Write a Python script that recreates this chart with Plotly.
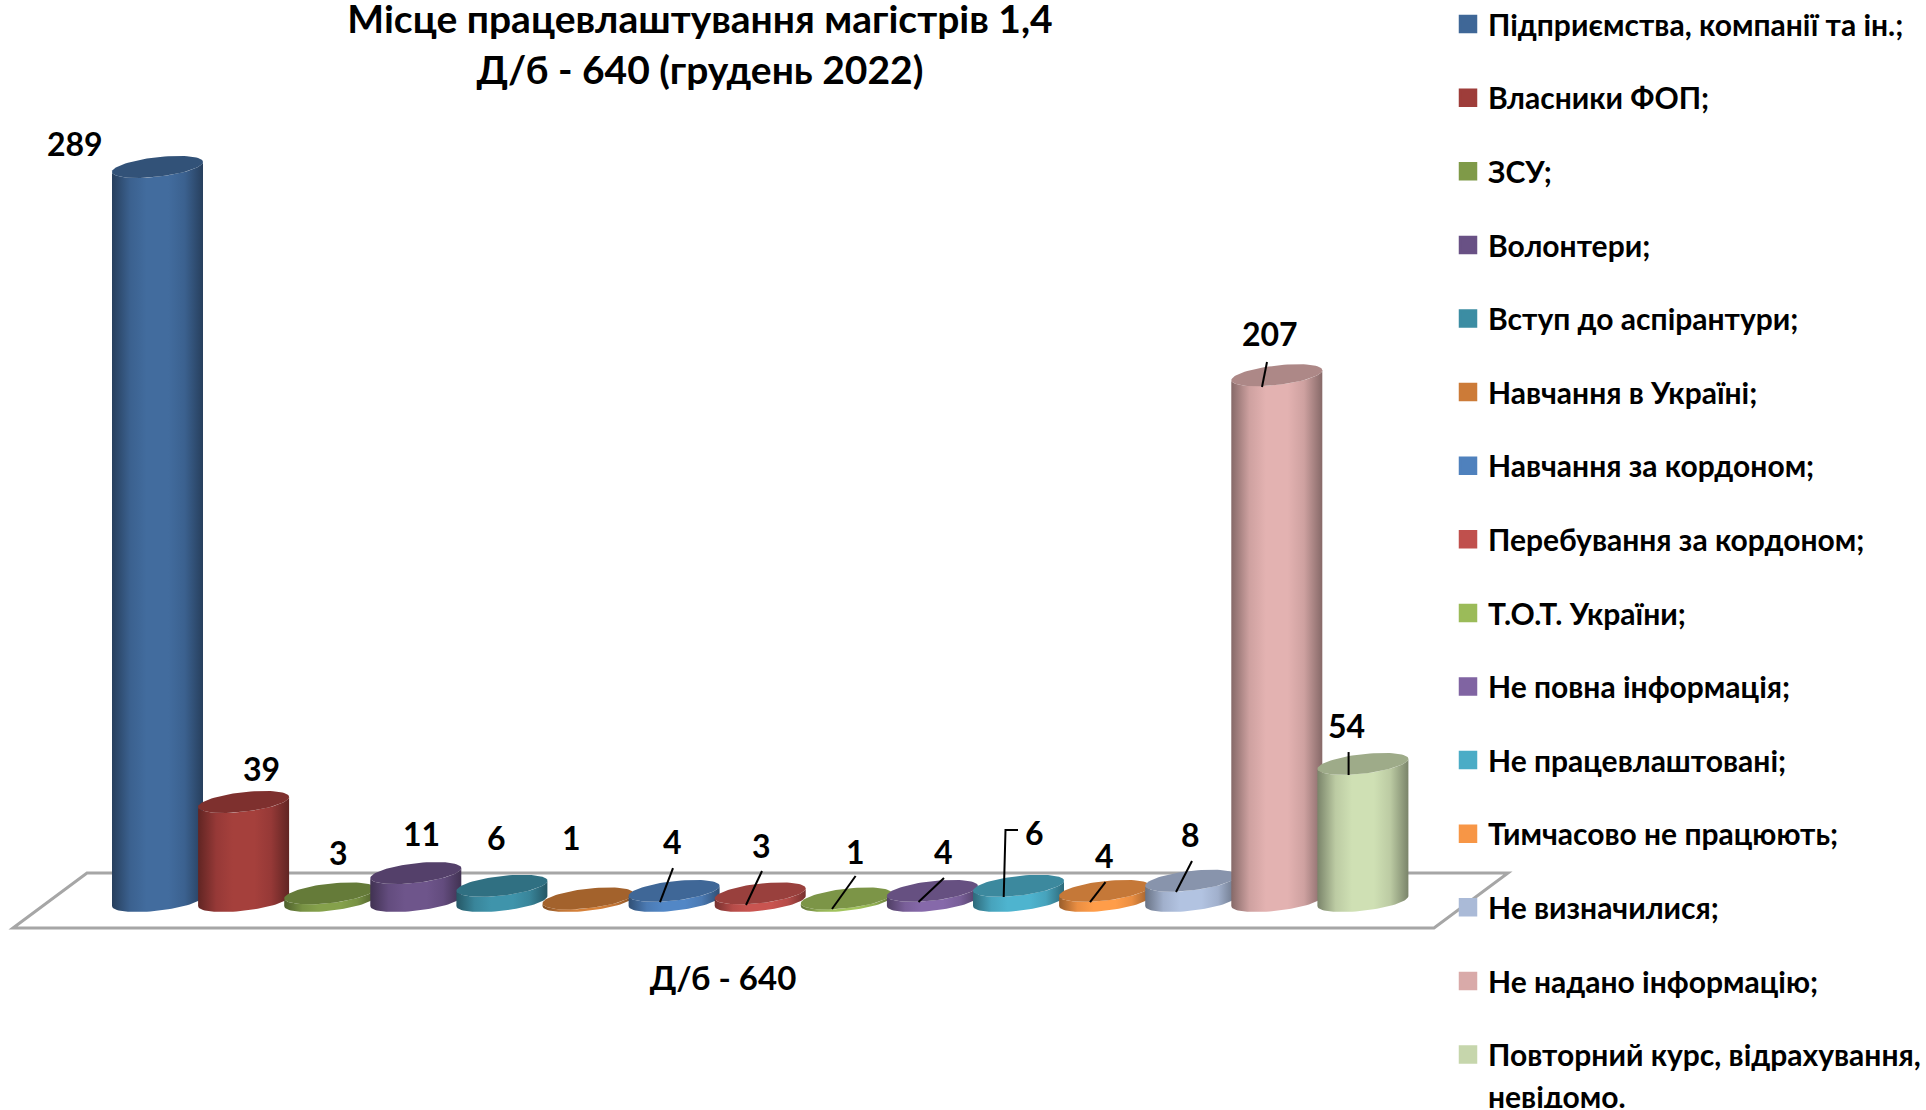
import math
import plotly.graph_objects as go

CATEGORIES = ["Підприємства, компанії та ін.;", "Власники ФОП;", "ЗСУ;", "Волонтери;", "Вступ до аспірантури;",
              "Навчання в Україні;", "Навчання за кордоном;", "Перебування за кордоном;", "Т.О.Т. України;",
              "Не повна інформація;", "Не працевлаштовані;", "Тимчасово не працюють;", "Не визначилися;",
              "Не надано інформацію;", "Повторний курс, відрахування,"]
LAST_NAME_LINE_2 = "невідомо."
VALUES = [289, 39, 3, 11, 6, 1, 4, 3, 1, 4, 6, 4, 8, 207, 54]
COLORS = ["#3F6797", "#9E3D3A", "#7F9A48", "#695185", "#3C8DA3", "#CC7B38", "#4F81BD", "#C0504D", "#9BBB59",
          "#8064A2", "#4BACC6", "#F79646", "#AABAD7", "#D9AAA9", "#C6D6AC"]
TITLE_1 = "Місце працевлаштування магістрів 1,4"
TITLE_2 = "Д/б - 640 (грудень 2022)"
AXIS_TITLE = "Д/б - 640"

# label offset from the bar top, in px (dx, up)
LABEL_OFFSETS = [(-82.5, 23), (18, 33), (9, 41), (6, 40), (-5, 48), (-17, 61), (-2, 49), (1, 48), (9, 47),
                 (11, 39), (16, 53), (0, 35), (0, 46), (-7, 42), (-16, 38)]
# leader lines from the bar top, in px (dx, up)
LEADERS = {6: [(-1.1, 22.8), (-14.1, -11.2)], 7: [(1.8, 22.4), (-14.2, -11.6)], 8: [(9.3, 22.5), (-14.3, -10.5)],
           9: [(11.6, 12.8), (-13.9, -11.2)], 10: [(-0.5, 55.8), (-13, 55.8), (-14.8, -11.2)],
           11: [(0.9, 8.8), (-14.6, -11.2)], 12: [(1.3, 19.7), (-14.7, -11.3)],
           13: [(-9.8, 13.2), (-14.8, -11.8)], 14: [(-14.3, 11.8), (-14.3, -11.2)]}

W, H = 1926, 1110
FONT = "Lato, 'Noto Sans', sans-serif"
PX_X, PX_Y = 86.1, 2.54          # pixels per category / per unit
X0_PX, Y0_PX = 157.5, 901.0      # pixel of category 0 / value 0
AXIS_R, AXIS_B = 1446, 940
A, B, K = 45.5 / PX_X, 9.8 / PX_Y, 5.0 / PX_Y   # ellipse half width, half height, tilt


def shade(hexcol, f):
    r, g, b = [int(hexcol[j:j + 2], 16) for j in (1, 3, 5)]
    return "rgb({},{},{})".format(*[min(255, int(c * f)) for c in (r, g, b)])


def ell(cx, cy, t):
    return cx + A * math.cos(t), cy + B * math.sin(t) + K * math.cos(t)


def arc(cx, cy, t0, t1, n=40):
    pts = [ell(cx, cy, t0 + (t1 - t0) * j / n) for j in range(n + 1)]
    return [p[0] for p in pts], [p[1] for p in pts]


fig = go.Figure()
for i, (name, val, col) in enumerate(zip(CATEGORIES, VALUES, COLORS)):
    # body: lower arc of the base, then the rim of the top
    bx, by = arc(i, 0, math.pi, 2 * math.pi)
    tx, ty = arc(i, val, 2 * math.pi, math.pi)
    fig.add_trace(go.Scatter(
        x=bx + tx, y=by + ty, mode="lines", fill="toself", line=dict(width=0, color=col), hoverinfo="skip",
        showlegend=False,
        fillgradient=dict(type="horizontal", colorscale=[
            [0, shade(col, 0.62)], [0.2, shade(col, 0.95)], [0.38, shade(col, 1.05)], [0.62, shade(col, 1.05)],
            [0.8, shade(col, 0.95)], [1, shade(col, 0.62)]])))
    # top face
    ex, ey = arc(i, val, 0, 2 * math.pi, 80)
    fig.add_trace(go.Scatter(
        x=ex, y=ey, mode="lines", fill="toself", line=dict(width=0, color=col),
        fillcolor=shade(col, 0.8), showlegend=False, name=name,
        hovertemplate=f"{val}<extra></extra>"))
    # legend entry
    fig.add_trace(go.Scatter(
        x=[None], y=[None], mode="markers", name=name, legendgroup=f"g{i}", showlegend=True,
        marker=dict(symbol="square", size=16, color=col, line=dict(width=2.5, color=col))))

# second line of the last legend entry, with no swatch of its own
fig.add_trace(go.Scatter(
    x=[None], y=[None], mode="markers", name=LAST_NAME_LINE_2, legendgroup=f"g{len(VALUES) - 1}", showlegend=True,
    marker=dict(symbol="square", size=16, color="rgba(0,0,0,0)")))

annotations = []
for i, val in enumerate(VALUES):
    dx, up = LABEL_OFFSETS[i]
    annotations.append(dict(x=i, y=val, xref="x", yref="y", text=f"<b>{val}</b>", showarrow=False,
                            xshift=dx, yshift=up, font=dict(family=FONT, size=32, color="black")))

shapes = []


def px2paper(x, y):
    return x / W, (AXIS_B - y) / AXIS_B


floor = [px2paper(*p) for p in [(13, 928), (87, 873), (1508, 873), (1434, 928)]]
shapes.append(dict(type="path", xref="paper", yref="paper", layer="below",
                   path="M" + " L".join(f"{a:.5f},{b:.5f}" for a, b in floor) + " Z",
                   line=dict(color="#A6A6A6", width=3)))
for i, pts in LEADERS.items():
    path = "M" + " L".join(f"{x},{y}" for x, y in pts)
    shapes.append(dict(type="path", xref="x", yref="y", xsizemode="pixel", ysizemode="pixel",
                       xanchor=i, yanchor=VALUES[i], path=path, line=dict(color="black", width=2)))

fig.update_layout(
    width=W, height=H, autosize=False,
    margin=dict(l=0, r=0, t=0, b=H - AXIS_B, autoexpand=False),
    paper_bgcolor="white", plot_bgcolor="rgba(0,0,0,0)",
    title=dict(text=f"<b>{TITLE_1}<br>{TITLE_2}</b>", x=700 / W, xanchor="center", y=0.97, yanchor="top",
               font=dict(family=FONT, size=39, color="black")),
    xaxis=dict(domain=[0, AXIS_R / W], range=[-X0_PX / PX_X, (AXIS_R - X0_PX) / PX_X], showgrid=False,
               zeroline=False, showticklabels=False, ticks="", showline=False, fixedrange=True,
               title=dict(text=f"<b>{AXIS_TITLE}</b>", standoff=26, font=dict(family=FONT, size=33, color="black"))),
    yaxis=dict(range=[(Y0_PX - AXIS_B) / PX_Y, Y0_PX / PX_Y], showgrid=False, zeroline=False, showticklabels=False,
               ticks="", showline=False, fixedrange=True),
    legend=dict(x=1448 / W, xanchor="left", y=1.002, yanchor="top", traceorder="grouped", tracegroupgap=31.6,
                itemwidth=30, maxheight=1110, font=dict(family=FONT, size=30, color="black", weight="bold"),
                bgcolor="rgba(0,0,0,0)", itemclick=False, itemdoubleclick=False),
    annotations=annotations, shapes=shapes,
)
fig.write_html("out.html", config=dict(displayModeBar=False),
               post_script="document.body.style.margin='0';document.body.style.overflow='hidden';")
